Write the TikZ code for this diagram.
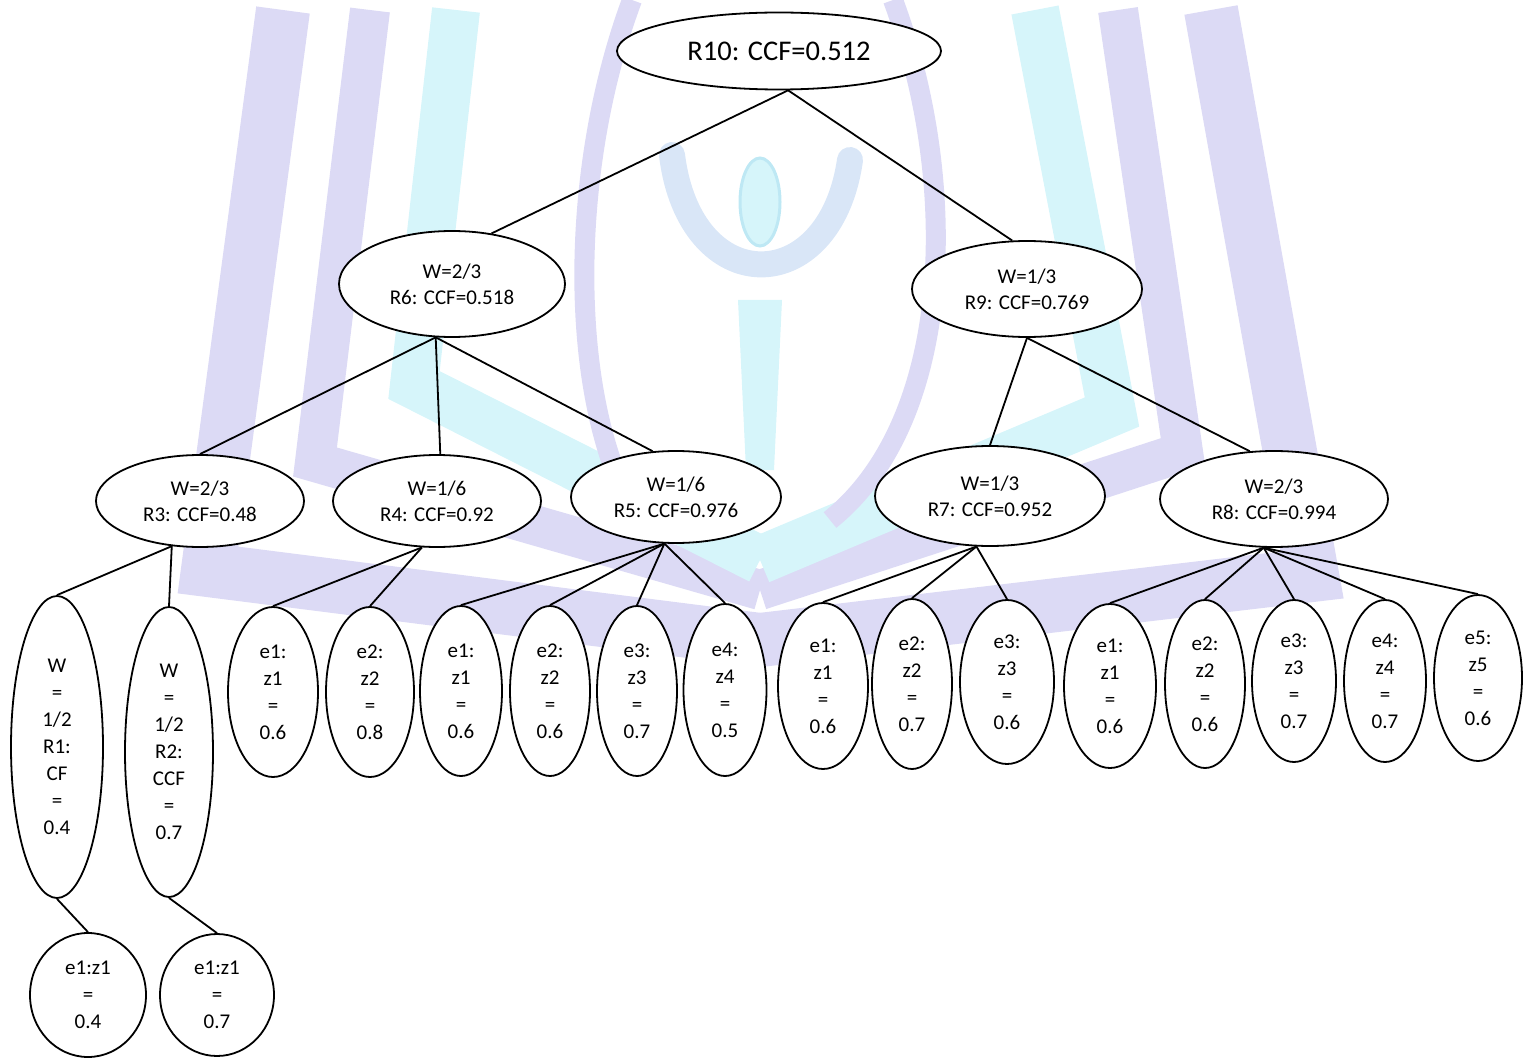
\documentclass[tikz,border=0pt]{standalone}
\usepackage{fontspec}
\setmainfont{Carlito}
\usetikzlibrary{shapes.geometric}
\definecolor{wmlav}{RGB}{220,218,245}
\definecolor{wmcyan}{RGB}{214,245,250}
\definecolor{wmcyandark}{RGB}{190,232,244}
\tikzset{
  nd/.style={draw, ellipse, fill=white, line width=1.8pt, inner sep=0pt,
             align=center, font=\fontsize{21}{27}\selectfont},
  rnd/.style={nd, font=\fontsize{21}{26}\selectfont},
  edge/.style={line width=1.8pt},
  wmbar/.style={line width=#1, line join=miter, line cap=butt},
}
\begin{document}
\begin{tikzpicture}[x=1pt,y=-1pt]
\useasboundingbox (0,0) rectangle (1523,1059);

% faint logo in the background
\draw[wmlav, wmbar=54pt] (283,10) -- (208,570) -- (760,640);
\draw[wmlav, wmbar=54pt] (1211,10) -- (1312,575) -- (760,640);
\draw[wmlav, wmbar=40pt] (370,10) -- (315,462) -- (760,590);
\draw[wmlav, wmbar=40pt] (1118,10) -- (1183,452) -- (760,590);
\draw[wmcyan, wmbar=48pt] (456,10) -- (414,385) -- (760,560);
\draw[wmcyan, wmbar=48pt] (1035,10) -- (1112,412) -- (760,560);
\draw[wmlav, line width=20pt] (632,0) .. controls (565,180) and (568,420) .. (645,530);
\draw[wmlav, line width=20pt] (893,0) .. controls (960,180) and (955,420) .. (830,520);
\fill[wmcyan] (738,300) -- (782,300) -- (774,470) -- (746,470) -- cycle;
\draw[wmlav!55!wmcyan, line width=26pt, line cap=round] (672,155) .. controls (690,300) and (830,300) .. (850,160);
\fill[wmcyan, draw=wmcyandark, line width=3pt] (760,202) ellipse [x radius=20, y radius=44];

% top levels
\node[nd, font=\fontsize{28.5}{34}\selectfont, minimum width=324pt, minimum height=77pt] (R10) at (779,51) {R10: CCF=0.512};
\node[rnd, minimum width=226pt, minimum height=106pt] (R6) at (452,284) {W=2/3\\R6: CCF=0.518};
\node[rnd, minimum width=230pt, minimum height=96pt] (R9) at (1027,289) {W=1/3\\R9: CCF=0.769};
\node[rnd, minimum width=208pt, minimum height=92pt] (R3) at (200,501) {W=2/3\\R3: CCF=0.48};
\node[rnd, minimum width=208pt, minimum height=92pt] (R4) at (437,501) {W=1/6\\R4: CCF=0.92};
\node[rnd, minimum width=210pt, minimum height=92pt] (R5) at (676,497) {W=1/6\\R5: CCF=0.976};
\node[rnd, minimum width=230pt, minimum height=100pt] (R7) at (990,496) {W=1/3\\R7: CCF=0.952};
\node[rnd, minimum width=228pt, minimum height=96pt] (R8) at (1274,499) {W=2/3\\R8: CCF=0.994};

% rules R1, R2 and their evidence
\node[nd, minimum width=92pt, minimum height=302pt] (R1) at (57,747) {W\\=\\1/2\\R1:\\CF\\=\\0.4};
\node[nd, minimum width=88pt, minimum height=290pt] (R2) at (169,752) {W\\=\\1/2\\R2:\\CCF\\=\\0.7};
\node[nd, minimum width=116pt, minimum height=124pt] (L1) at (88,995) {e1:z1\\=\\0.4};
\node[nd, minimum width=114pt, minimum height=122pt] (L2) at (217,995) {e1:z1\\=\\0.7};

% evidence of R4
\node[nd, minimum width=90pt, minimum height=170pt] (a1) at (273,692) {e1:\\z1\\=\\0.6};
\node[nd, minimum width=88pt, minimum height=170pt] (a2) at (370,692) {e2:\\z2\\=\\0.8};
% evidence of R5
\node[nd, minimum width=82pt, minimum height=170pt] (b1) at (461,691) {e1:\\z1\\=\\0.6};
\node[nd, minimum width=80pt, minimum height=170pt] (b2) at (550,691) {e2:\\z2\\=\\0.6};
\node[nd, minimum width=80pt, minimum height=170pt] (b3) at (637,691) {e3:\\z3\\=\\0.7};
\node[nd, minimum width=83pt, minimum height=172pt] (b4) at (725,690) {e4:\\z4\\=\\0.5};
% evidence of R7
\node[nd, minimum width=90pt, minimum height=166pt] (c1) at (823,686) {e1:\\z1\\=\\0.6};
\node[nd, minimum width=80pt, minimum height=170pt] (c2) at (912,684) {e2:\\z2\\=\\0.7};
\node[nd, minimum width=94pt, minimum height=164pt] (c3) at (1007,682) {e3:\\z3\\=\\0.6};
% evidence of R8
\node[nd, minimum width=92pt, minimum height=164pt] (d1) at (1110,686) {e1:\\z1\\=\\0.6};
\node[nd, minimum width=80pt, minimum height=168pt] (d2) at (1205,684) {e2:\\z2\\=\\0.6};
\node[nd, minimum width=84pt, minimum height=162pt] (d3) at (1294,681) {e3:\\z3\\=\\0.7};
\node[nd, minimum width=82pt, minimum height=162pt] (d4) at (1385,681) {e4:\\z4\\=\\0.7};
\node[nd, minimum width=88pt, minimum height=166pt] (d5) at (1478,678) {e5:\\z5\\=\\0.6};

% connectors
\draw[edge] (R10.283) -- (R6.52);
\draw[edge] (R10.283) -- (R9.107);
\draw[edge] (R6.253) -- (R3.north);
\draw[edge] (R6.253) -- (R4.86);
\draw[edge] (R6.253) -- (R5.117);
\draw[edge] (R9.south) -- (R7.north);
\draw[edge] (R9.south) -- (R8.117);
\draw[edge] (R3.238) -- (R1.north);
\draw[edge] (R3.238) -- (R2.north);
\draw[edge] (R1.south) -- (L1.north);
\draw[edge] (R2.south) -- (L2.north);
\foreach \c in {a1,a2} \draw[edge] (R4.252) -- (\c.north);
\foreach \c in {b1,b2,b3,b4} \draw[edge] (R5.256) -- (\c.north);
\foreach \c in {c1,c2,c3} \draw[edge] (R7.255) -- (\c.north);
\foreach \c in {d1,d2,d3,d4,d5} \draw[edge] (R8.258) -- (\c.north);
\end{tikzpicture}
\end{document}
